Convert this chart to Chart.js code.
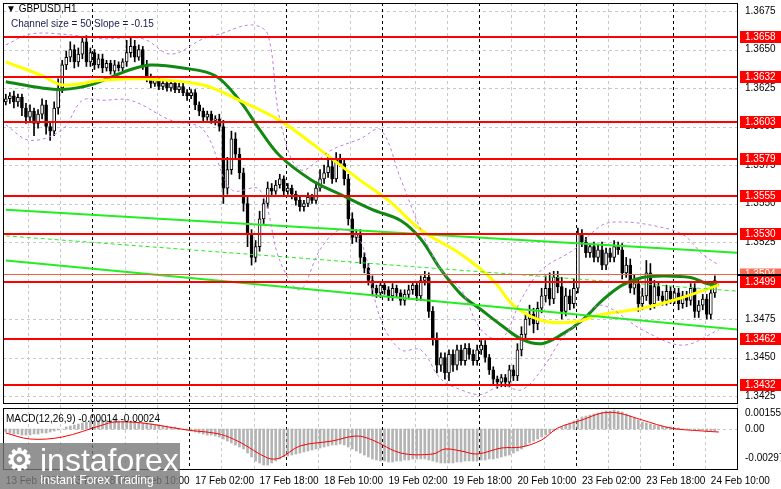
<!DOCTYPE html>
<html>
<head>
<meta charset="utf-8">
<script src="https://cdn.jsdelivr.net/npm/chart.js@4/dist/chart.umd.min.js"></script>
<style>
  html, body { margin: 0; padding: 0; background: #fff; }
  #wrap { width: 781px; height: 489px; }
</style>
</head>
<body>
<div id="wrap"><canvas id="chart" width="781" height="489"></canvas></div>
<script>
// GBPUSD H1 closes, one per bar
const closes = [
  1.3618,1.3620,1.3616,1.3619,1.3612,1.3606,1.3610,1.3602,1.3608,1.3614,
  1.3600,1.3597,1.3612,1.3625,1.3640,1.3645,1.3650,1.3642,1.3647,1.3655,
  1.3642,1.3648,1.3640,1.3644,1.3638,1.3641,1.3636,1.3640,1.3638,1.3642,
  1.3648,1.3652,1.3645,1.3650,1.3640,1.3632,1.3628,1.3630,1.3626,1.3628,
  1.3625,1.3628,1.3624,1.3626,1.3622,1.3620,1.3622,1.3614,1.3610,1.3606,
  1.3608,1.3604,1.3605,1.3600,1.3560,1.3572,1.3592,1.3582,1.3570,1.3550,
  1.3530,1.3515,1.3522,1.3540,1.3550,1.3560,1.3558,1.3562,1.3566,1.3558,
  1.3560,1.3556,1.3552,1.3548,1.3550,1.3554,1.3552,1.3560,1.3566,1.3570,
  1.3574,1.3566,1.3578,1.3576,1.3566,1.3540,1.3528,1.3530,1.3515,1.3508,
  1.3500,1.3495,1.3492,1.3497,1.3494,1.3490,1.3495,1.3492,1.3487,1.3491,
  1.3494,1.3497,1.3490,1.3500,1.3502,1.3480,1.3462,1.3445,1.3450,1.3440,
  1.3452,1.3445,1.3455,1.3448,1.3456,1.3452,1.3448,1.3455,1.3458,1.3450,
  1.3442,1.3436,1.3434,1.3437,1.3434,1.3442,1.3438,1.3455,1.3465,1.3475,
  1.3478,1.3472,1.3482,1.3490,1.3495,1.3488,1.3502,1.3496,1.3480,1.3490,
  1.3485,1.3495,1.3530,1.3525,1.3518,1.3522,1.3515,1.3520,1.3510,1.3518,
  1.3515,1.3522,1.3520,1.3505,1.3510,1.3495,1.3498,1.3485,1.3490,1.3505,
  1.3485,1.3496,1.3490,1.3487,1.3493,1.3488,1.3492,1.3485,1.3490,1.3487,
  1.3495,1.3480,1.3484,1.3488,1.3478,1.3492,1.3500
];
const firstOpen = 1.3616;
// wick lengths above / below the body, in pips
const upWick = [
  3,2,3,2,2,3,4,2,3,4, 3,2,4,6,3,4,5,3,4,3, 4,3,2,3,3,2,2,3,2,2,
  8,6,4,3,2,3,2,2,2,2, 2,2,2,2,2,2,2,2,2,2, 2,2,2,3,4,8,5,4,4,3,
  4,3,4,5,3,4,3,3,3,2, 3,2,2,2,2,3,2,4,6,5, 8,4,5,4,3,3,4,3,3,3,
  3,3,2,2,2,2,3,2,2,3, 3,2,2,3,4,3,3,4,3,3, 3,3,3,3,3,3,3,3,3,3,
  2,2,2,2,2,3,3,4,5,4, 6,4,4,5,8,10,4,4,6,5, 4,6,4,3,3,2,3,3,5,3,
  3,4,3,4,5,4,6,3,5,8, 6,4,3,3,4,3,3,3,3,3, 3,3,3,3,3,4,3
];
const downWick = [
  2,3,4,3,5,4,3,8,3,3, 5,6,3,4,3,3,3,4,3,3, 3,3,3,2,3,2,2,2,2,2,
  3,3,3,2,3,3,3,2,2,2, 2,2,2,2,2,3,2,3,3,3, 2,2,3,3,10,4,3,3,4,5,
  8,5,3,3,3,3,3,2,2,3, 2,3,3,3,3,2,2,2,2,3, 3,3,2,2,4,4,4,3,4,3,
  3,5,3,3,3,3,3,3,3,3, 3,3,3,3,3,4,4,5,4,4, 5,4,3,3,3,3,3,3,3,3,
  3,3,4,3,3,3,3,3,4,3, 4,6,4,3,4,4,3,4,5,3, 4,3,3,3,3,3,3,3,3,3,
  3,3,3,4,3,3,4,5,4,3, 4,3,3,3,3,3,3,4,3,4, 3,4,4,3,3,3,3
];
// moving averages: [bar, price]
const maYellow = [[0,1.3642],[9,1.3633],[14,1.3627],[24,1.3630],[34,1.3631],[49,1.3627],[58,1.3617],[68,1.3604],[78,1.3585],[88,1.3565],[95,1.3552],[103,1.3533],[113,1.3517],[121,1.3500],[126,1.3484],[133,1.3474],[141,1.3473],[148,1.3478],[158,1.3482],[168,1.3489],[177,1.3497]];
const maGreen = [[0,1.3629],[9,1.3625],[14,1.3624],[21,1.3627],[31,1.3637],[36,1.3640],[44,1.3638],[52,1.3633],[58,1.3617],[63,1.3598],[68,1.3581],[76,1.3565],[83,1.3556],[91,1.3546],[98,1.3539],[103,1.3527],[108,1.3507],[113,1.3491],[118,1.3481],[123,1.3471],[128,1.3462],[133,1.3459],[138,1.3465],[143,1.3474],[148,1.3487],[153,1.3497],[158,1.3502],[163,1.3503],[170,1.3502],[174,1.3498],[177,1.3497]];
const bandUpper = [[0,1.3653],[6,1.3660],[14,1.3660],[24,1.3657],[34,1.3657],[41,1.3647],[49,1.3657],[53,1.3660],[61,1.3666],[65,1.3660],[68,1.3605],[73,1.3572],[81,1.3585],[88,1.3592],[93,1.3598],[98,1.3566],[103,1.3533],[108,1.3507],[113,1.3494],[118,1.3468],[123,1.3462],[128,1.3488],[133,1.3507],[141,1.3520],[148,1.3536],[153,1.3538],[160,1.3536],[168,1.3530],[173,1.3517],[177,1.3510]];
const bandLower = [[0,1.3601],[6,1.3591],[14,1.3598],[19,1.3617],[24,1.3617],[31,1.3617],[41,1.3604],[49,1.3598],[56,1.3559],[63,1.3559],[68,1.3513],[73,1.3494],[78,1.3520],[83,1.3533],[88,1.3526],[93,1.3475],[98,1.3455],[103,1.3455],[108,1.3436],[113,1.3429],[118,1.3426],[123,1.3432],[128,1.3429],[133,1.3442],[138,1.3462],[143,1.3475],[148,1.3484],[158,1.3468],[168,1.3458],[177,1.3468]];
// regression channel (upper, middle, lower): [bar, price] at both ends
const chanUpper = [[0,1.3546],[182,1.3518]];
const chanMid = [[0,1.3529],[182,1.3493]];
const chanLower = [[0,1.3513],[182,1.3468]];
// horizontal levels
const levels = [1.3658,1.3632,1.3603,1.3579,1.3555,1.3530,1.3499,1.3462,1.3432];
const lastPrice = 1.3504;
// MACD histogram, 1e-4 units, one per bar
const macdHist = [
  -3,-4,-5,-5,-6,-6,-6,-5,-5,-4, -4,-3,-2,-1,0,2,3,4,5,6, 7,8,8,9,9,9,9,9,8,8,
  8,7,7,6,6,5,5,4,4,3, 3,2,2,1,0,-1,-2,-3,-4,-5, -6,-6,-7,-8,-10,-12,-14,-16,-18,-20,
  -24,-28,-32,-34,-36,-36,-34,-32,-30,-28, -27,-26,-25,-24,-23,-22,-21,-20,-19,-18,
  -17,-16,-16,-15,-16,-18,-20,-22,-24,-26, -28,-30,-31,-32,-32,-33,-33,-32,-32,-31,
  -31,-30,-30,-30,-30,-31,-32,-33,-34,-34, -34,-34,-33,-33,-32,-32,-32,-32,-31,-31,
  -30,-30,-29,-28,-27,-26,-24,-22,-20,-17, -14,-12,-10,-8,-6,-4,-2,0,2,4,
  6,8,10,12,13,14,15,16,17,18, 18,19,18,17,15,13,11,9,7,6, 5,4,3,3,2,2,1,1,0,0,
  0,-1,-1,-1,-2,-2,-2
];
const macdSignal = [[0,-4],[6,-10],[14,-8],[24,4],[27,7],[34,6],[45,-1],[53,-5],[58,-13],[65,-29],[68,-29],[73,-17],[81,-12],[87,-7],[91,-11],[98,-24],[106,-25],[109,-20],[113,-22],[117,-25],[123,-19],[128,-18],[133,-11],[137,1],[143,9],[148,16],[152,16],[158,9],[165,1],[173,-2],[177,-3]];
// time axis
const timeTicks = [0,16,31,47,63,79,95,111,127,143,159,175];
const timeLabels = ['13 Feb 2026','13 Feb 18:00','16 Feb 10:00','17 Feb 02:00','17 Feb 18:00','18 Feb 10:00','19 Feb 02:00','19 Feb 18:00','20 Feb 10:00','23 Feb 02:00','23 Feb 18:00','24 Feb 10:00'];
const dayBreaks = [21.5,45.5,69.5,93.5,117.5,141.5,165.5];
const priceTicks = [1.3425,1.3450,1.3475,1.3500,1.3525,1.3550,1.3575,1.3600,1.3625,1.3650,1.3675];
const macdTicks = [0.00155,0,-0.00297];

const FONT = 'Liberation Sans';

let opens = closes.map((c, i) => i == 0 ? firstOpen : closes[i - 1]);
let bodies = closes.map((c, i) => {
    let o = opens[i];
    let hi = Math.max(o, c), lo = Math.min(o, c);
    if (hi - lo < 0.00004) { hi += 0.00002; lo -= 0.00002; }
    return { x: i, y: [lo, hi] };
});
let wicks = closes.map((c, i) => ({
    x: i,
    y: [Math.min(opens[i], c) - downWick[i] * 0.0001, Math.max(opens[i], c) + upWick[i] * 0.0001]
}));
const pts = arr => arr.map(p => ({ x: p[0], y: p[1] }));

function lineSet(data, color, width, dash) {
    return { type: 'line', data: pts(data), borderColor: color, borderWidth: width,
        borderDash: dash || [], pointRadius: 0, tension: 0.35, yAxisID: 'y', order: 0 };
}

const decor = {
    id: 'decor',
    beforeDatasetsDraw(chart) {
        const { ctx, scales: { x, y, y2 } } = chart;
        const L = x.left, R = x.right, T = y.top, B = y.bottom;
        ctx.save();
        ctx.lineWidth = 1;
        ctx.setLineDash([3, 3]);
        ctx.strokeStyle = '#c8c8c8';
        priceTicks.forEach(p => {
            let py = Math.round(y.getPixelForValue(p)) + 0.5;
            ctx.beginPath(); ctx.moveTo(L, py); ctx.lineTo(R, py); ctx.stroke();
        });
        for (let b = 5.5; b < 182; b += 8) {
            if (dayBreaks.includes(b)) continue;
            let px = Math.round(x.getPixelForValue(b)) + 0.5;
            ctx.beginPath(); ctx.moveTo(px, T); ctx.lineTo(px, B); ctx.stroke();
            ctx.beginPath(); ctx.moveTo(px, y2.top); ctx.lineTo(px, y2.bottom); ctx.stroke();
        }
        let z = Math.round(y2.getPixelForValue(0)) + 0.5;
        ctx.beginPath(); ctx.moveTo(L, z); ctx.lineTo(R, z); ctx.stroke();
        ctx.strokeStyle = '#000';
        dayBreaks.forEach(b => {
            let px = Math.round(x.getPixelForValue(b)) + 0.5;
            ctx.beginPath(); ctx.moveTo(px, T); ctx.lineTo(px, B); ctx.stroke();
            ctx.beginPath(); ctx.moveTo(px, y2.top + 3); ctx.lineTo(px, y2.bottom); ctx.stroke();
        });
        ctx.restore();
    },
    afterDatasetsDraw(chart) {
        const { ctx, scales: { x, y, y2 } } = chart;
        const L = x.left, R = x.right;
        ctx.save();
        // horizontal levels
        ctx.strokeStyle = '#ff0000';
        ctx.lineWidth = 2;
        levels.forEach(p => {
            let py = Math.round(y.getPixelForValue(p));
            ctx.beginPath(); ctx.moveTo(L, py); ctx.lineTo(R, py); ctx.stroke();
        });
        let lp = Math.round(y.getPixelForValue(lastPrice)) + 0.5;
        ctx.lineWidth = 1;
        ctx.strokeStyle = '#f06040';
        ctx.beginPath(); ctx.moveTo(L, lp); ctx.lineTo(R, lp); ctx.stroke();
        // frames
        ctx.strokeStyle = '#000';
        ctx.strokeRect(L + 0.5, y.top + 0.5, R - L, y.bottom - y.top - 3);
        ctx.strokeRect(L + 0.5, y2.top + 2.5, R - L, y2.bottom - y2.top - 2);
        // price labels
        ctx.font = '10px ' + FONT;
        ctx.textBaseline = 'middle';
        ctx.fillStyle = '#ff6a55';
        ctx.fillRect(R + 3, lp - 6, 41, 12);
        ctx.fillStyle = '#fff';
        ctx.fillText(lastPrice.toFixed(4), R + 8, lp);
        ctx.fillStyle = '#000';
        ctx.fillRect(R, lp - 0.5, 44, 2);
        levels.forEach(p => {
            let py = Math.round(y.getPixelForValue(p));
            ctx.fillStyle = '#ff0000';
            ctx.fillRect(R + 3, py - 6, 41, 12);
            ctx.fillStyle = '#fff';
            ctx.fillText(p.toFixed(4), R + 8, py + 0.5);
        });
        // titles
        ctx.fillStyle = '#000';
        ctx.fillText('\u25BC GBPUSD,H1', L + 3, 9);
        ctx.fillStyle = '#1a1a50';
        ctx.fillText('Channel size = 50 Slope = -0.15', L + 8, 24);
        ctx.fillStyle = '#000';
        ctx.fillText('MACD(12,26,9) -0.00014 -0.00024', L + 3, y2.top + 13);
        // watermark
        ctx.fillStyle = 'rgba(120,120,120,0.8)';
        ctx.fillRect(0, 443, 180, 46);
        ctx.fillStyle = '#fff';
        ctx.font = 'bold 30px ' + FONT;
        ctx.fillText('\u2699', 6, 462);
        ctx.font = '32px ' + FONT;
        ctx.fillText('instaforex', 40, 462);
        ctx.font = '12px ' + FONT;
        ctx.fillText('Instant Forex Trading', 40, 481);
        ctx.restore();
    }
};

const ctx = document.getElementById('chart').getContext('2d');
new Chart(ctx, {
    data: {
        datasets: [
            lineSet(bandUpper, '#c27be0', 1, [3, 3]),
            lineSet(bandLower, '#c27be0', 1, [3, 3]),
            lineSet(chanUpper, '#22ee22', 2),
            lineSet(chanMid, '#22ee22', 1, [4, 3]),
            lineSet(chanLower, '#22ee22', 2),
            { type: 'bar', data: wicks, backgroundColor: '#000', barThickness: 1, grouped: false, yAxisID: 'y', order: 2 },
            { type: 'bar', data: bodies, backgroundColor: bodies.map((b, i) => closes[i] >= opens[i] ? '#fff' : '#000'),
              borderColor: '#000', borderWidth: 1, borderSkipped: false, barThickness: 3, grouped: false, yAxisID: 'y', order: 1 },
            lineSet(maYellow, '#ffff00', 3),
            lineSet(maGreen, '#118811', 3),
            { type: 'bar', data: macdHist.map((v, i) => ({ x: i, y: v * 0.0001 })), backgroundColor: '#b4b4b4',
              barThickness: 2, grouped: false, yAxisID: 'y2', order: 3 },
            { type: 'line', data: macdSignal.map(p => ({ x: p[0], y: p[1] * 0.0001 })), borderColor: '#ff0000',
              borderWidth: 1, pointRadius: 0, tension: 0.35, yAxisID: 'y2', order: 0 }
        ]
    },
    options: {
        responsive: false,
        animation: false,
        layout: { padding: { top: 3, left: 3, right: 0, bottom: 0 } },
        plugins: { legend: { display: false }, tooltip: { enabled: false } },
        scales: {
            x: {
                type: 'linear', min: -0.7, max: 181.5, offset: false,
                grid: { display: false, drawTicks: false },
                border: { display: false },
                afterBuildTicks: s => { s.ticks = timeTicks.map(v => ({ value: v })); },
                afterFit: s => { s.height = 20; s.paddingLeft = 0; s.paddingRight = 0; },
                ticks: { align: 'start', maxRotation: 0, autoSkip: false, padding: 6, color: '#000',
                    font: { family: FONT, size: 10 },
                    callback: v => timeLabels[timeTicks.indexOf(v)] }
            },
            y: {
                position: 'right', stack: 'p', stackWeight: 6.4,
                min: 1.34185, max: 1.36802,
                grid: { display: false, drawTicks: false }, border: { display: false },
                afterBuildTicks: s => { s.ticks = priceTicks.map(v => ({ value: v })); },
                afterFit: s => { s.width = 44; s.paddingTop = 0; s.paddingBottom = 0; },
                ticks: { padding: 8, color: '#000', font: { family: FONT, size: 10 }, callback: v => v.toFixed(4) }
            },
            y2: {
                position: 'right', stack: 'p', stackWeight: 1,
                min: -0.0040, max: 0.0023,
                grid: { display: false, drawTicks: false }, border: { display: false },
                afterBuildTicks: s => { s.ticks = macdTicks.map(v => ({ value: v })); },
                afterFit: s => { s.width = 44; s.paddingTop = 0; s.paddingBottom = 0; },
                ticks: { padding: 8, color: '#000', font: { family: FONT, size: 10 },
                    callback: v => v == 0 ? '0.00' : String(v) }
            }
        }
    },
    plugins: [decor]
});
</script>
</body>
</html>
